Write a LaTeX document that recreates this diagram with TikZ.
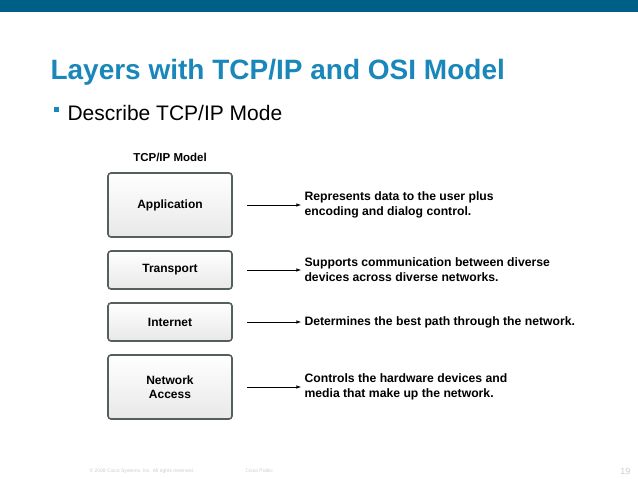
\documentclass[tikz,border=0pt]{standalone}
\usepackage{fontspec}
\setmainfont{Liberation Sans}
\usetikzlibrary{positioning}
\definecolor{ciscobar}{HTML}{005F86}
\definecolor{ciscotitle}{HTML}{1A87BA}
\definecolor{boxedge}{HTML}{55605A}
\begin{document}
\begin{tikzpicture}[x=1pt,y=-1pt,>=latex]
\tikzstyle{layer}=[draw=boxedge,line width=1.6pt,rounded corners=3pt,top color=white,bottom color=gray!18,minimum width=124pt,font=\bfseries\fontsize{12}{14}\selectfont,align=center]
\tikzstyle{desc}=[anchor=west,font=\bfseries\fontsize{12.2}{15}\selectfont,align=left]
\useasboundingbox (0,0) rectangle (638,479);
\fill[ciscobar] (0,0) rectangle (638,12);
\node[anchor=west,text=ciscotitle,font=\bfseries\fontsize{28}{32}\selectfont](title) at (47,72) {Layers with TCP/IP and OSI Model};
\fill[ciscotitle] (54,107) rectangle (59,112);
\node[anchor=west,font=\fontsize{21}{24}\selectfont](sub) at (64,113) {Describe TCP/IP Mode};
\node[font=\bfseries\fontsize{11.5}{13}\selectfont](model) at (170,157) {TCP/IP Model};
\node[layer,minimum height=64pt](app) at (170,205) {Application};
\node[layer,minimum height=38pt](trn) at (170,270) {Transport};
\node[layer,minimum height=38pt](int) at (170,322) {Internet};
\node[layer,minimum height=64pt](net) at (170,387) {Network\\Access};
\node[desc](dapp) at (301,205) {Represents data to the user plus\\encoding and dialog control.};
\node[desc](dtrn) at (301,270) {Supports communication between diverse\\devices across diverse networks.};
\node[desc](dint) at (301,322) {Determines the best path through the network.};
\node[desc](dnet) at (301,387) {Controls the hardware devices and\\media that make up the network.};
\foreach \a/\b in {app/dapp,trn/dtrn,int/dint,net/dnet}
  \draw[->,line width=0.6pt] ([xshift=14pt]\a.east) -- (\b.west);
\node[anchor=west,text=gray!40,font=\fontsize{5}{6}\selectfont](copy) at (86,471) {© 2008 Cisco Systems, Inc. All rights reserved.};
\node[anchor=west,text=gray!40,font=\fontsize{5}{6}\selectfont](pub) at (242,471) {Cisco Public};
\node[anchor=east,text=gray!40,font=\fontsize{9}{10}\selectfont](page) at (634,471) {19};
\end{tikzpicture}
\end{document}
